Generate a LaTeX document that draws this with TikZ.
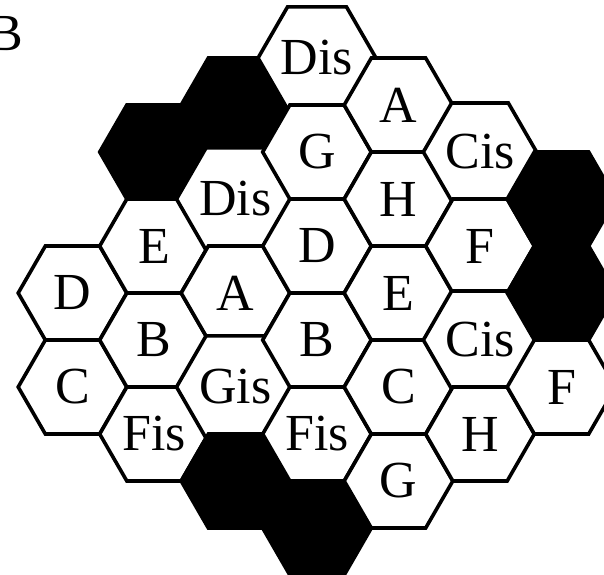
\documentclass[tikz,border=0pt]{standalone}
\usepackage{fontspec}
\setmainfont{Liberation Serif}
\usetikzlibrary{shapes.geometric}

\begin{document}
\begin{tikzpicture}[
  x=1pt, y=-1pt,
  font=\fontsize{52}{56}\selectfont,
  hexa/.style={regular polygon, regular polygon sides=6, minimum size=108.6pt,
               inner sep=0pt, outer sep=0pt, draw, line width=3.6pt, fill=white},
  preto/.style={hexa, fill=black},
  rotulo/.style={anchor=base east, inner sep=0pt}
]
  \useasboundingbox (0,0) rectangle (604,574);

  % Coluna 0
  \node[hexa] (d1) at (72.5,293) {D};
  \node[hexa] (c1) at (72.5,387) {C};

  % Coluna 1
  \node[preto] (p1) at (154,152) {};
  \node[hexa] (e1) at (154,246) {E};
  \node[hexa] (b1) at (154,340) {B};
  \node[hexa] (fis1) at (154,434) {Fis};

  % Coluna 2
  \node[preto] (p2) at (235.5,105) {};
  \node[hexa] (dis1) at (235.5,199) {Dis};
  \node[hexa] (a1) at (235.5,293) {A};
  \node[hexa] (gis1) at (235.5,387) {Gis};
  \node[preto] (p3) at (235.5,481) {};

  % Coluna 3
  \node[hexa] (dis2) at (317,58) {Dis};
  \node[hexa] (g1) at (317,152) {G};
  \node[hexa] (d2) at (317,246) {D};
  \node[hexa] (b2) at (317,340) {B};
  \node[hexa] (fis2) at (317,434) {Fis};
  \node[preto] (p4) at (317,528) {};

  % Coluna 4
  \node[hexa] (a2) at (398.5,105) {A};
  \node[hexa] (h1) at (398.5,199) {H};
  \node[hexa] (e2) at (398.5,293) {E};
  \node[hexa] (c2) at (398.5,387) {C};
  \node[hexa] (g2) at (398.5,481) {G};

  % Coluna 5
  \node[hexa] (cis1) at (480,152) {Cis};
  \node[hexa] (f1) at (480,246) {F};
  \node[hexa] (cis2) at (480,340) {Cis};
  \node[hexa] (h2) at (480,434) {H};

  % Coluna 6
  \node[preto] (p5) at (561.5,199) {};
  \node[preto] (p6) at (561.5,293) {};
  \node[hexa] (f2) at (561.5,387) {F};

  % Painel
  \node[rotulo] (painel) at (23,50) {B};
\end{tikzpicture}
\end{document}
